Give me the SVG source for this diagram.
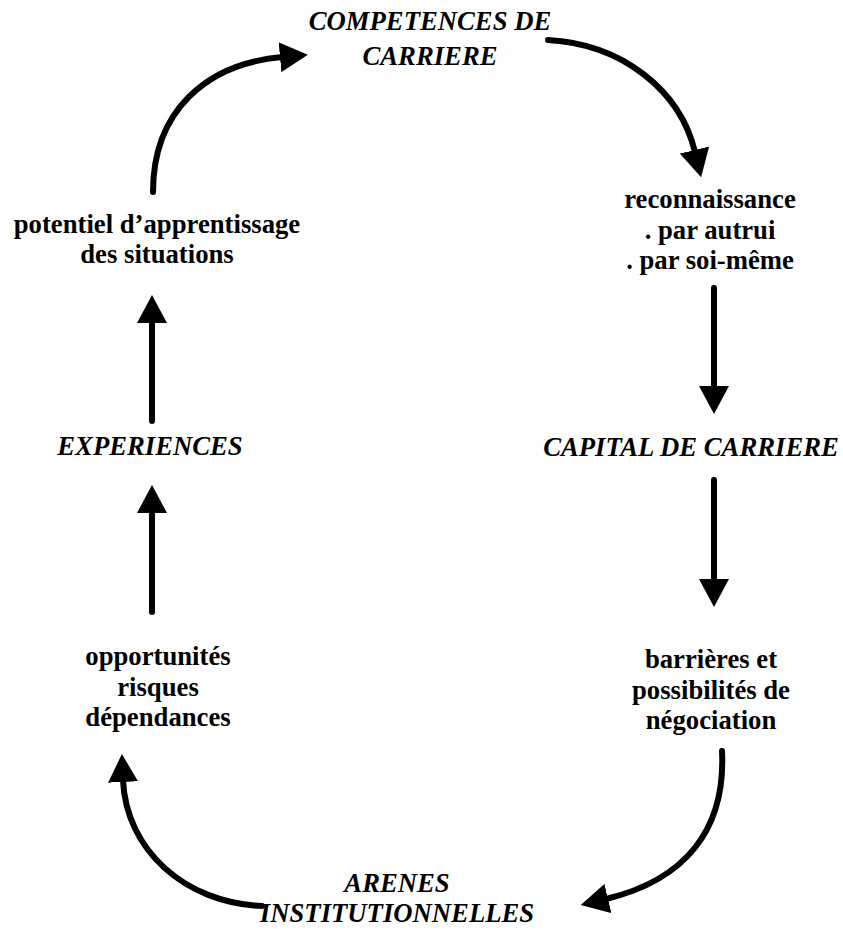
<svg xmlns="http://www.w3.org/2000/svg" width="843" height="929" viewBox="0 0 843 929">
<defs>
<style>
text{font-family:"Liberation Serif","Times New Roman","DejaVu Serif",serif;font-size:26.7px;font-weight:bold;fill:#000;text-anchor:middle}
.it{font-style:italic}
.c{fill:none;stroke:#000;stroke-width:6;stroke-linecap:round}
</style>
<marker id="ah" viewBox="0 0 28 30" refX="2" refY="15" markerWidth="28" markerHeight="30" markerUnits="userSpaceOnUse" orient="auto">
<path d="M0,0 L28,15 L0,30 Z" fill="#000"/>
</marker>
</defs>
<rect width="843" height="929" fill="#fff"/>
<g id="connectors">
<path class="c" d="M153,192 C153,112 205,64 282,57" marker-end="url(#ah)"/>
<path class="c" d="M548,40 C622,44 680,90 695,152" marker-end="url(#ah)"/>
<path class="c" d="M714,288 L714,388" marker-end="url(#ah)"/>
<path class="c" d="M714,480 L714,581" marker-end="url(#ah)"/>
<path class="c" d="M722,751 C726,830 685,880 606,899" marker-end="url(#ah)"/>
<path class="c" d="M262,906 C185,903 126,850 123,780" marker-end="url(#ah)"/>
<path class="c" d="M152,612 L152,511" marker-end="url(#ah)"/>
<path class="c" d="M152,421 L152,321" marker-end="url(#ah)"/>
</g>
<g id="competences"><text class="it" x="430" y="30">COMPETENCES DE</text><text class="it" x="430" y="65">CARRIERE</text></g>
<g id="reconnaissance"><text x="710" y="208">reconnaissance</text><text x="710" y="238.5">. par autrui</text><text x="710" y="269">. par soi-même</text></g>
<g id="capital"><text class="it" x="691" y="456">CAPITAL DE CARRIERE</text></g>
<g id="barrieres"><text x="711" y="668">barrières et</text><text x="711" y="698.5">possibilités de</text><text x="711" y="729">négociation</text></g>
<g id="arenes"><text class="it" x="397" y="892">ARENES</text><text class="it" x="397" y="922">INSTITUTIONNELLES</text></g>
<g id="opportunites"><text x="158" y="665">opportunités</text><text x="158" y="695.5">risques</text><text x="158" y="726">dépendances</text></g>
<g id="experiences"><text class="it" x="150" y="455">EXPERIENCES</text></g>
<g id="potentiel"><text x="157" y="233">potentiel d’apprentissage</text><text x="157" y="263">des situations</text></g>
</svg>
